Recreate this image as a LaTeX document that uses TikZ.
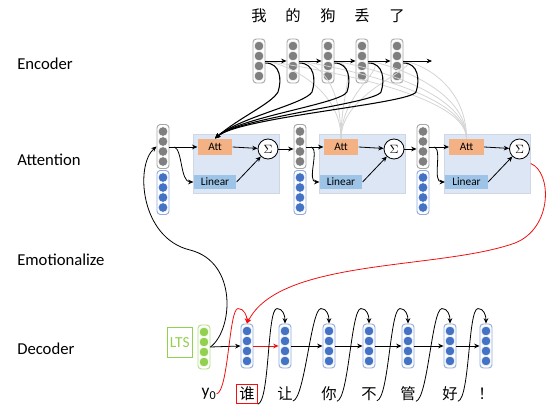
\documentclass[tikz,border=0pt]{standalone}
\usepackage{fontspec}
\setmainfont{Carlito}
\newfontfamily\cjk{Noto Sans CJK SC}
\usepackage{tikz}
\usetikzlibrary{arrows.meta, positioning}
\usetikzlibrary{calc}
\definecolor{EncGray}{HTML}{7F7F7F}
\definecolor{ColEdge}{HTML}{A6A6A6}
\definecolor{DecBlue}{HTML}{4472C4}
\definecolor{DecEdge}{HTML}{8FAADC}
\definecolor{LtsGreen}{HTML}{92D050}
\definecolor{PanelBlue}{HTML}{DCE6F4}
\definecolor{AttOrange}{HTML}{F4B183}
\definecolor{LinBlue}{HTML}{9DC3E6}
\definecolor{FlowRed}{HTML}{F01010}
\definecolor{FaintGray}{HTML}{D4D4D4}

\begin{document}
\begin{tikzpicture}[
        x=0.75pt, y=-0.75pt,
        every node/.style={font=\fontsize{11.5}{14}\selectfont, inner sep=0pt},
        stage/.style={anchor=west, font=\fontsize{12.5}{15}\selectfont},
        col/.style={draw=#1, fill=white, rounded corners=2.5pt, line width=0.7pt, minimum width=9pt, minimum height=33pt},
        panel/.style={fill=PanelBlue, draw=PanelBlue!85!gray, line width=0.3pt, minimum width=64.5pt, minimum height=44pt},
        att/.style={fill=AttOrange, minimum width=26pt, minimum height=12.5pt, font=\fontsize{8.5}{9}\selectfont},
        lin/.style={fill=LinBlue, minimum width=32pt, minimum height=10pt, font=\fontsize{8.5}{9}\selectfont},
        sum/.style={draw, circle, fill=white, line width=0.6pt, minimum size=15pt, font=\fontsize{9}{9}\selectfont},
        word/.style={font=\cjk\fontsize{11.5}{13}\selectfont},
        arrow/.style={line width=0.6pt, -{Stealth[length=4pt, width=3.5pt]}},
        thread/.style={line width=0.8pt, -{Stealth[length=4pt, width=3.5pt]}},
        faint/.style={FaintGray, line width=0.6pt}
    ]
        \useasboundingbox (0,0) rectangle (554,406);

        % stage names
        \node[stage] (encoder) at (17,64) {Encoder};
        \node[stage] (attention) at (17,160) {Attention};
        \node[stage] (emotion) at (17,260) {Emotionalize};
        \node[stage] (decoder) at (17,349) {Decoder};

        % encoder states
        \foreach \x/\w [count=\i] in {259/我, 293/的, 328/狗, 362/丢, 397/了} {
            \node[col=ColEdge] (enc\i) at (\x,61) {};
            \foreach \dy in {-15,-5,5,15}
                \fill[EncGray, draw=white, line width=0.4pt] ($(enc\i)+(0,\dy)$) circle (3.6pt);
            \node[word] (src\i) at (\x,16) {\w};
        }
        \coordinate (encout) at (432,61);

        % attention steps
        \foreach \x [count=\i] in {163,300,423} {
            \node[col=ColEdge] (hid\i) at (\x,146.5) {};
            \node[col=DecEdge] (emb\i) at (\x,192.5) {};
            \foreach \dy in {-15,-5,5,15} {
                \fill[EncGray, draw=white, line width=0.4pt] ($(hid\i)+(0,\dy)$) circle (3.6pt);
                \fill[DecBlue, draw=white, line width=0.4pt] ($(emb\i)+(0,\dy)$) circle (3.6pt);
            }
        }
        \foreach \x [count=\i] in {236,362,487.5} {
            \node[panel] (box\i) at (\x,163.5) {};
            \node[att] (att\i) at (\x-21,147) {Att};
            \node[lin] (lin\i) at (\x-21,182) {Linear};
            \node[sum] (sum\i) at (\x+32,149) {$\Sigma$};
        }

        % decoder
        \node[col=LtsGreen!70] (seed) at (204,347) {};
        \foreach \dy in {-15,-5,5,15}
            \fill[LtsGreen, draw=white, line width=0.4pt] ($(seed)+(0,\dy)$) circle (3.6pt);
        \node[draw=LtsGreen, text=LtsGreen, line width=0.6pt, minimum width=19pt, minimum height=22.5pt, left=3.5pt of seed, yshift=3.5pt] (lts) {LTS};
        \foreach \x [count=\i] in {247,285,329,369,408,450,486} {
            \node[col=DecEdge] (dec\i) at (\x,346) {};
            \foreach \dy in {-15,-5,5,15}
                \fill[DecBlue, draw=white, line width=0.4pt] ($(dec\i)+(0,\dy)$) circle (3.6pt);
        }
        \node[font=\fontsize{13}{14}\selectfont] (tok0) at (209,394) {y\textsubscript{0}};
        \node[word, color=FlowRed, text=black, draw, line width=0.8pt, inner sep=2pt] (tok1) at (dec1 |- tok0) {谁};
        \foreach \w [count=\i from 2] in {让, 你, 不, 管, 好, ！}
            \node[word] (tok\i) at (dec\i |- tok0) {\w};

        % faint attention links
        \foreach \i in {1,...,5}
            \foreach \k in {2,3}
                \draw[faint] (enc\i.east) .. controls +(25,4) and ($(att\k.north)+(0,-48)$) .. (att\k.north);

        % encoder chain
        \foreach \i [count=\j from 2] in {1,...,4}
            \draw[arrow] (enc\i.east) -- (enc\j.west);
        \draw[arrow] (enc5.east) -- (encout);

        % encoder states into first Att
        \foreach \i in {1,...,5}
            \draw[thread] ($(enc\i.east)+(0,2)$) .. controls +(15,0) and ($(enc\i)+(23,19)$) .. ($(enc\i)+(19,31)$)
                .. controls ($(enc\i)+(12,43)$) and (240,117) .. (att1.north);

        % attention inner links
        \foreach \i in {1,2,3} {
            \draw[arrow] (hid\i.east |- att\i) -- (att\i.west);
            \draw[arrow] ($(hid\i.east |- att\i)+(5,0)$) .. controls +(8,3) and +(-13,0) .. (lin\i.west);
            \draw[arrow] (att\i.east) -- (sum\i);
            \draw[arrow] (lin\i.east) -- (sum\i);
        }
        \foreach \i [count=\j from 2] in {1,2}
            \draw[arrow] (sum\i) -- (hid\j.west |- sum\i);

        % decoder chain
        \draw[arrow] (seed.east) -- (dec1.west);
        \draw[arrow, FlowRed] (dec1.east) -- (dec2.west);
        \foreach \i [count=\j from 3] in {2,...,6}
            \draw[arrow] (dec\i.east) -- (dec\j.west);

        % previous words fed back
        \draw[arrow, FlowRed] (tok0.east) .. controls +(12,-3) and +(-9,0) .. ($(dec1.north)+(-9,-15)$)
            .. controls +(6,0) and +(0,-8) .. (dec1.north);
        \foreach \i [count=\j from 2] in {1,...,6}
            \draw[arrow] (tok\i.south east) .. controls +(12,-3) and +(-10,0) .. ($(dec\j.north)+(-8,-15)$)
                .. controls +(6,0) and +(0,-8) .. (dec\j.north);

        % LTS state up to attention, context down to decoder
        \draw[arrow] (seed.east) .. controls (233,330) and (238,262) .. (190,250)
            .. controls (140,238) and (135,165) .. (hid1.west);
        \draw[arrow, FlowRed] (box3.east) .. controls (552,172) and (553,228) .. (515,243)
            .. controls (440,270) and (280,258) .. (dec1.north);
    \end{tikzpicture}
\end{document}
